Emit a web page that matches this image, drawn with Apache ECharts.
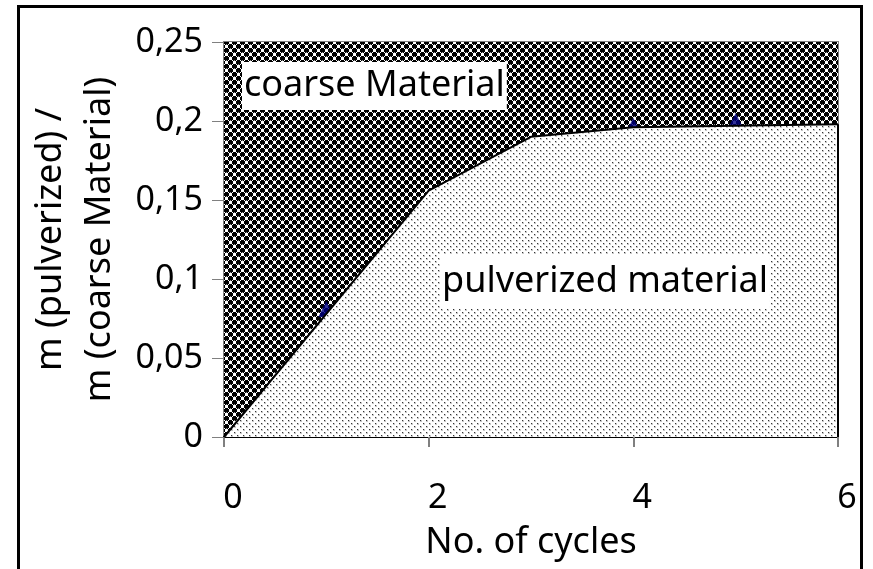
<!DOCTYPE html>
<html>
<head>
<meta charset="utf-8">
<script src="https://cdn.jsdelivr.net/npm/echarts@6/dist/echarts.min.js"></script>
<style>
  html, body { margin: 0; padding: 0; background: #fff; }
  #chart { width: 873px; height: 569px; }
</style>
</head>
<body>
<div id="chart"></div>
<script>
// measured points (markers)
var cycles = [1, 2, 4, 5];
var ratio = [0.081, 0.152, 0.197, 0.2];
// fitted boundary between pulverized and coarse material
var fitCycles = [0, 2, 3, 4, 6];
var fitRatio = [0, 0.156, 0.19, 0.196, 0.198];
// upper limit of the coarse region
var topCycles = [0, 6];
var topRatio = [0.25, 0.25];
var xTicks = [0, 2, 4, 6];
var yTicks = [0, 0.05, 0.1, 0.15, 0.2, 0.25];

function pairs(xs, ys) {
  return xs.map(function (x, i) { return [x, ys[i]]; });
}

// dark "ball" pattern, drawn pixel by pixel
function ballTile() {
  var ball = ['.KKK.', 'KKKKK', 'KKKKK', 'KKKKK', '.KGK.'];
  var cols = { K: '#000', G: '#8a8a8a' };
  var c = document.createElement('canvas');
  c.width = 8; c.height = 8;
  var g = c.getContext('2d');
  g.fillStyle = '#fff';
  g.fillRect(0, 0, 8, 8);
  [[0, 0], [4, 4]].forEach(function (o) {
    ball.forEach(function (row, r) {
      for (var k = 0; k < row.length; k++) {
        if (row[k] === '.') continue;
        g.fillStyle = cols[row[k]];
        g.fillRect((o[0] + k) % 8, (o[1] + r) % 8, 1, 1);
      }
    });
  });
  return c;
}

// light dotted pattern
function dotTile() {
  var c = document.createElement('canvas');
  c.width = 6; c.height = 6;
  var g = c.getContext('2d');
  g.fillStyle = '#fff';
  g.fillRect(0, 0, 6, 6);
  [[0, 0], [3, 3]].forEach(function (p) {
    g.fillStyle = '#c8c8c8';
    g.fillRect(p[0], p[1], 2, 2);
    g.fillStyle = '#333';
    g.fillRect(p[0], p[1], 1, 1);
  });
  return c;
}

var chart = echarts.init(document.getElementById('chart'));
var font = '"Noto Sans", sans-serif';
var lastX = fitCycles[fitCycles.length - 1];
var lastY = fitRatio[fitRatio.length - 1];

chart.setOption({
  animation: false,
  textStyle: { fontFamily: font },
  grid: {
    left: 224, right: 35, top: 42, bottom: 132,
    show: true, borderColor: '#808080', borderWidth: 2
  },
  xAxis: {
    type: 'value', min: 0, max: 6, interval: 2,
    name: 'No. of cycles', nameLocation: 'middle', nameGap: 88,
    nameTextStyle: { fontSize: 36, color: '#000', fontFamily: font },
    axisLine: { lineStyle: { color: '#000', width: 2 } },
    axisTick: { length: 10, lineStyle: { color: '#808080', width: 2 } },
    axisLabel: {
      fontSize: 34, color: '#000', margin: 44, fontFamily: font,
      padding: [0, 0, 0, 18],
      formatter: function (v) { return xTicks.indexOf(v) >= 0 ? String(v) : ''; }
    },
    splitLine: { show: false }
  },
  yAxis: {
    type: 'value', min: 0, max: 0.25, interval: 0.05,
    name: 'm (pulverized) /\nm (coarse Material)', nameLocation: 'middle', nameGap: 97,
    nameTextStyle: { fontSize: 36, lineHeight: 49, color: '#000', fontFamily: font },
    axisLine: { show: true, lineStyle: { color: '#808080', width: 2 } },
    axisTick: { length: 12, lineStyle: { color: '#808080', width: 1 } },
    axisLabel: {
      fontSize: 34, color: '#000', margin: 21, fontFamily: font,
      formatter: function (v) {
        var i = yTicks.indexOf(Math.round(v * 100) / 100);
        return i >= 0 ? String(yTicks[i]).replace('.', ',') : '';
      }
    },
    splitLine: { show: false }
  },
  series: [
    {
      name: 'coarse', type: 'line', z: 1,
      data: pairs(topCycles, topRatio),
      symbol: 'none',
      lineStyle: { width: 0 },
      areaStyle: { color: { image: ballTile(), repeat: 'repeat' }, opacity: 1 }
    },
    {
      name: 'measured', type: 'scatter', z: 2,
      data: pairs(cycles, ratio),
      symbol: 'triangle', symbolSize: 16,
      itemStyle: { color: '#000080' }
    },
    {
      name: 'pulverized', type: 'line', z: 3,
      data: pairs(fitCycles, fitRatio),
      symbol: 'none',
      lineStyle: { color: '#000', width: 2 },
      areaStyle: { color: { image: dotTile(), repeat: 'repeat' }, opacity: 1 },
      markLine: {
        silent: true, symbol: 'none', label: { show: false },
        lineStyle: { color: '#000', width: 2, type: 'solid' },
        data: [[{ coord: [lastX, lastY] }, { coord: [lastX, 0] }]]
      }
    }
  ],
  graphic: [
    {
      type: 'rect', z: 100,
      shape: { x: 18.5, y: 6.5, width: 843, height: 620 },
      style: { fill: 'none', stroke: '#000', lineWidth: 3 }
    },
    {
      type: 'text', left: 242, top: 62, z: 100,
      style: {
        text: 'coarse Material', font: '36px ' + font, fill: '#000',
        backgroundColor: '#fff', padding: [6, 2, 6, 2]
      }
    },
    {
      type: 'text', left: 440, top: 255, z: 100,
      style: {
        text: 'pulverized material', font: '36px ' + font, fill: '#000',
        backgroundColor: '#fff', padding: [9, 2, 9, 2]
      }
    }
  ]
});
</script>
</body>
</html>
